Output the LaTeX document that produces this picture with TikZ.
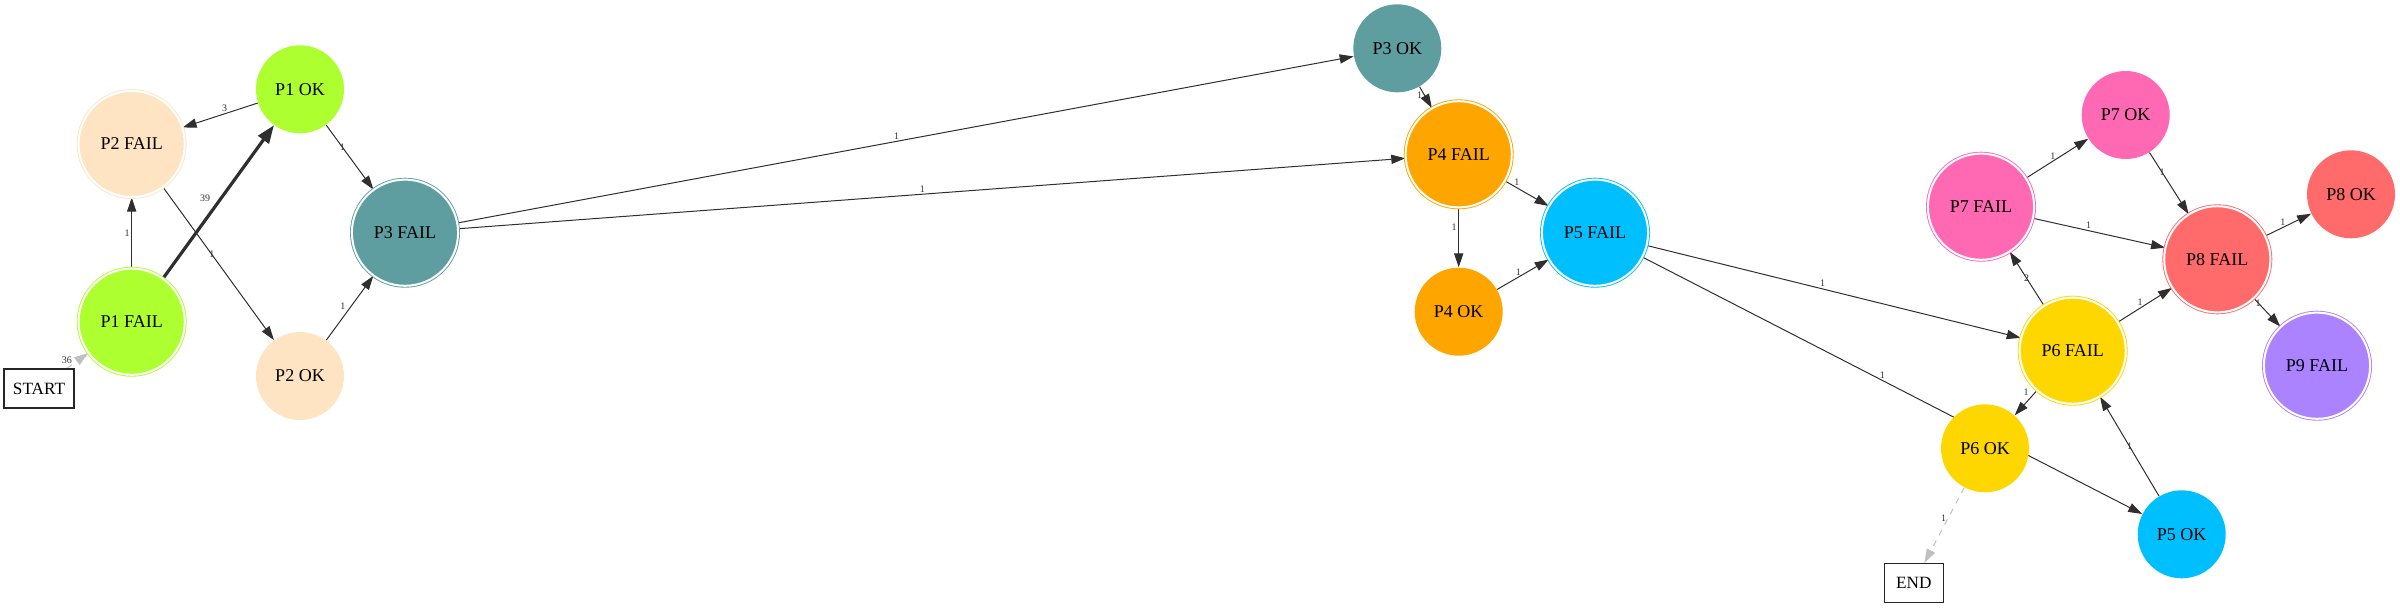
\documentclass[tikz,border=0pt]{standalone}
\usepackage{fontspec}
\setmainfont{Liberation Serif}
\usetikzlibrary{arrows.meta}
\pgfdeclarelayer{bg}
\pgfsetlayers{bg,main}
\definecolor{cP1}{HTML}{ADFF2F}
\definecolor{cP2}{HTML}{FFE4C4}
\definecolor{cP3}{HTML}{5F9EA0}
\definecolor{cP4}{HTML}{FFA500}
\definecolor{cP5}{HTML}{00BFFF}
\definecolor{cP6}{HTML}{FFD700}
\definecolor{cP7}{HTML}{FF69B4}
\definecolor{cP8}{HTML}{FF6A6A}
\definecolor{cP9}{HTML}{AB82FF}
\definecolor{edgec}{HTML}{2F2F2F}
\definecolor{greyc}{HTML}{C0C0C0}
\tikzset{
  x=0.5pt, y=-0.5pt,
  oknode/.style={circle, fill=#1, draw=none, minimum size=44pt, inner sep=0pt, font=\fontsize{9}{10}\selectfont},
  failnode/.style={circle, fill=#1, draw=#1, double=white, double distance=1pt, line width=0.45pt, minimum size=53.1pt, inner sep=0pt, font=\fontsize{9}{10}\selectfont},
  boxnode/.style={rectangle, draw=black!85, line width=0.6pt, fill=white, inner sep=0pt, font=\fontsize{8.6}{10}\selectfont},
  edge/.style={draw=edgec, line width=0.5pt, -{Triangle[length=7pt,width=4.6pt]}},
  thickedge/.style={draw=edgec, line width=1.6pt, -{Triangle[length=9pt,width=6.5pt]}},
  greyedge/.style={draw=greyc, line width=0.5pt, dashed, -{Triangle[length=7pt,width=4.6pt]}},
  lab/.style={font=\fontsize{5}{6}\selectfont, text=black!80, inner sep=0.8pt}
}
\begin{document}
\begin{tikzpicture}
\useasboundingbox (0,0) rectangle (2400,607);
% nodes
\node[boxnode, minimum width=35pt, minimum height=19.5pt] (start) at (39,388.5) {START};
\node[boxnode, minimum width=29.5pt, minimum height=19.5pt] (end) at (1913.8,583) {END};
\node[failnode=cP1] (p1f) at (131.7,321.7) {P1 FAIL};
\node[oknode=cP1] (p1o) at (300,89.3) {P1 OK};
\node[failnode=cP2] (p2f) at (131.7,144) {P2 FAIL};
\node[oknode=cP2] (p2o) at (300,376) {P2 OK};
\node[failnode=cP3] (p3f) at (405,232.7) {P3 FAIL};
\node[oknode=cP3] (p3o) at (1397.3,48.3) {P3 OK};
\node[failnode=cP4] (p4f) at (1458.7,154.3) {P4 FAIL};
\node[oknode=cP4] (p4o) at (1458.7,311.7) {P4 OK};
\node[failnode=cP5] (p5f) at (1595,232.7) {P5 FAIL};
\node[oknode=cP5] (p5o) at (2181.7,534.3) {P5 OK};
\node[failnode=cP6] (p6f) at (2072.7,350.7) {P6 FAIL};
\node[oknode=cP6] (p6o) at (1985,448.3) {P6 OK};
\node[failnode=cP7] (p7f) at (1981,206.7) {P7 FAIL};
\node[oknode=cP7] (p7o) at (2125.7,115) {P7 OK};
\node[failnode=cP8] (p8f) at (2217.3,259.3) {P8 FAIL};
\node[oknode=cP8] (p8o) at (2351,194.3) {P8 OK};
\node[failnode=cP9] (p9f) at (2317,365.7) {P9 FAIL};
% edges
\begin{pgfonlayer}{bg}
\draw[greyedge] (start) -- node[lab, pos=0, above=1.5pt] {36} (p1f);
\draw[edge] (p1f) -- node[lab, pos=0.5, left] {1} (p2f);
\draw[thickedge] (p1f) -- node[lab, pos=0.47, above left=1pt] {39} (p1o);
\draw[edge] (p1o) -- node[lab, pos=0.44, above] {3} (p2f);
\draw[edge] (p1o) -- node[lab, pos=0.34] {1} (p3f);
\draw[edge] (p2f) -- node[lab, pos=0.44] {1} (p2o);
\draw[edge] (p2o) -- node[lab, pos=0.45, above left] {1} (p3f);
\draw[edge] (p3f) -- node[lab, pos=0.49, above] {1} (p3o);
\draw[edge] (p3f) -- node[lab, pos=0.49, above] {1} (p4f);
\draw[edge] (p3o) -- node[lab, pos=0.38, left] {1} (p4f);
\draw[edge] (p4f) -- node[lab, pos=0.27, above] {1} (p5f);
\draw[edge] (p4f) -- node[lab, pos=0.33, left] {1} (p4o);
\draw[edge] (p4o) -- node[lab, pos=0.41, above] {1} (p5f);
\draw[edge] (p5f) -- node[lab, pos=0.47, above] {1} (p6f);
\draw[edge] (p5f) -- node[lab, pos=0.48, above] {1} (p5o);
\draw[edge] (p6f) -- node[lab, pos=0.51] {2} (p7f);
\draw[edge] (p6f) -- node[lab, pos=0.41, above] {1} (p8f);
\draw[edge] (p6f) -- node[lab, pos=0.28, above left] {1} (p6o);
\draw[greyedge] (p6o) -- node[lab, pos=0.40, left] {1} (end);
\draw[edge] (p5o) -- node[lab, pos=0.5] {1} (p6f);
\draw[edge] (p7f) -- node[lab, pos=0.43, above] {1} (p7o);
\draw[edge] (p7f) -- node[lab, pos=0.42, above] {1} (p8f);
\draw[edge] (p7o) -- node[lab, pos=0.32] {1} (p8f);
\draw[edge] (p8f) -- node[lab, pos=0.38, above] {1} (p8o);
\draw[edge] (p8f) -- node[lab, pos=0.16] {1} (p9f);
\end{pgfonlayer}
\end{tikzpicture}
\end{document}
